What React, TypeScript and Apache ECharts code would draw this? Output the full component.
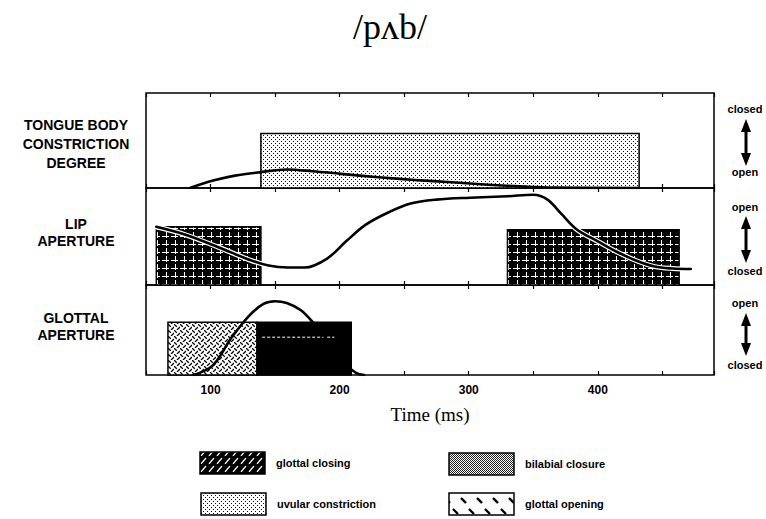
import { useEffect, useRef } from 'react';
import * as echarts from 'echarts';

const TITLE = '/pʌb/';
const X_AXIS_NAME = 'Time (ms)';
const X_MIN = 50;
const X_MAX = 490;
const X_STEP = 50;
const X_TICK_LABELS = [100, 200, 300, 400];

const PANEL_LABELS = [
  ['TONGUE BODY', 'CONSTRICTION', 'DEGREE'],
  ['LIP', 'APERTURE'],
  ['GLOTTAL', 'APERTURE'],
];
const SCALE_TOP = ['closed', 'open', 'open'];
const SCALE_BOTTOM = ['open', 'closed', 'closed'];

// boxes: [start ms, end ms, height (0..1)]
const tongueBoxes = [[139, 432, 0.574]];
const lipBoxes = [[58, 139, 0.6], [330, 463, 0.57]];
const glottalOpenBoxes = [[67, 136, 0.585]];
const glottalCloseBoxes = [[136, 209, 0.585]];

// curves: [ms, value]
const tongueCurve = [
  [84, 0], [102, 0.078], [119, 0.13], [139, 0.167], [159, 0.195], [179, 0.177],
  [201, 0.149], [230, 0.113], [258, 0.085], [287, 0.06], [315, 0.035], [344, 0.014],
  [365, 0.004], [432, 0],
];
const lipCurve = [
  [58, 0.6], [80, 0.52], [106, 0.39], [130, 0.26], [145, 0.2], [160, 0.18], [173, 0.18],
  [190, 0.27], [205, 0.45], [220, 0.62], [238, 0.75], [255, 0.84], [275, 0.88], [301, 0.9],
  [330, 0.915], [350, 0.93], [361, 0.88], [372, 0.73], [384, 0.57], [400, 0.45], [415, 0.34],
  [430, 0.25], [444, 0.19], [458, 0.17], [472, 0.165],
];
const glottalCurve = [
  [87, 0], [102, 0.11], [116, 0.41], [130, 0.66], [141, 0.79], [150, 0.82], [159, 0.8],
  [170, 0.72], [179, 0.59], [193, 0.34], [204, 0.13], [213, 0.02], [219, 0],
];
const glottalDash = [[140, 0.42], [196, 0.42]];

const LEGEND_ITEMS = ['glottal closing', 'bilabial closure', 'uvular constriction', 'glottal opening'];

function makePattern(w: number, h: number, bg: string, draw: (ctx: CanvasRenderingContext2D) => void) {
  const c = document.createElement('canvas');
  c.width = w;
  c.height = h;
  const ctx = c.getContext('2d')!;
  ctx.fillStyle = bg;
  ctx.fillRect(0, 0, w, h);
  draw(ctx);
  return { image: c.toDataURL(), repeat: 'repeat', imageWidth: w, imageHeight: h };
}

export default function App() {
  const ref = useRef<HTMLDivElement>(null);
  useEffect(() => {
    if (!ref.current) return;
    const chart = echarts.init(ref.current, null, { renderer: 'svg' });

    const stipple = makePattern(4, 4, '#fff', (ctx) => {
      ctx.fillStyle = '#111';
      ctx.fillRect(1, 1, 1, 1);
      ctx.fillRect(3, 3, 1, 1);
    });
    const lipGrid = makePattern(9, 8, '#000', (ctx) => {
      ctx.fillStyle = '#fff';
      ctx.fillRect(4, 0, 1, 6);
      ctx.fillRect(0, 4, 7, 1);
    });
    const openPat = makePattern(6, 6, '#fff', (ctx) => {
      ctx.strokeStyle = '#000';
      ctx.lineWidth = 1.3;
      ctx.beginPath();
      ctx.moveTo(0, 0); ctx.lineTo(2.8, 2.8);
      ctx.moveTo(3, 6); ctx.lineTo(6, 3);
      ctx.stroke();
    });
    const legClosing = makePattern(8, 8, '#000', (ctx) => {
      ctx.strokeStyle = '#fff';
      ctx.lineWidth = 1.2;
      ctx.beginPath();
      ctx.moveTo(1, 8); ctx.lineTo(6, 2);
      ctx.stroke();
    });
    const legBilabial = makePattern(2, 2, '#fff', (ctx) => {
      ctx.fillStyle = '#222';
      ctx.fillRect(0, 0, 1, 1);
      ctx.fillRect(1, 1, 1, 1);
    });
    const legOpening = makePattern(16, 22, '#fff', (ctx) => {
      ctx.strokeStyle = '#000';
      ctx.lineWidth = 2.4;
      ctx.beginPath();
      ctx.moveTo(5, 3); ctx.lineTo(10, 8);
      ctx.moveTo(13, 14); ctx.lineTo(18, 19);
      ctx.moveTo(-3, 14); ctx.lineTo(2, 19);
      ctx.stroke();
    });

    const grids = [
      { left: 146, right: 52, top: 93, height: 95 },
      { left: 146, right: 52, top: 188, height: 97 },
      { left: 146, right: 52, top: 285, height: 90 },
    ];

    const xAxes: any[] = [];
    const yAxes: any[] = [];
    grids.forEach((_, i) => {
      const base = {
        type: 'value',
        gridIndex: i,
        min: X_MIN,
        max: X_MAX,
        interval: X_STEP,
        axisLine: { show: false },
        axisTick: { show: true, inside: true, length: 4, lineStyle: { color: '#000', width: 1.2 } },
        splitLine: { show: false },
      };
      xAxes.push({
        ...base,
        position: 'bottom',
        name: i === 2 ? X_AXIS_NAME : '',
        nameLocation: 'middle',
        nameGap: 30,
        nameTextStyle: { fontFamily: 'Liberation Serif', fontSize: 19, color: '#000' },
        axisLabel: {
          show: i === 2,
          margin: 9,
          color: '#000',
          fontFamily: 'Liberation Sans',
          fontWeight: 'bold',
          fontSize: 12,
          formatter: (v: number) => (X_TICK_LABELS.includes(v) ? String(v) : ''),
        },
      });
      xAxes.push({ ...base, position: 'top', axisLabel: { show: false } });
      yAxes.push({ type: 'value', gridIndex: i, min: 0, max: 1, show: false });
    });

    const boxSeries = (data: number[][], gi: number, fill: any) => ({
      type: 'custom',
      xAxisIndex: gi * 2,
      yAxisIndex: gi,
      z: 2,
      encode: { x: [0, 1], y: 2 },
      data,
      renderItem: (_p: any, api: any) => {
        const s = api.value(0);
        const e = api.value(1);
        const h = api.value(2);
        const a = api.coord([s, h]);
        const b = api.coord([e, 0]);
        return {
          type: 'rect',
          shape: { x: a[0], y: a[1], width: b[0] - a[0], height: b[1] - a[1] },
          style: { fill, stroke: '#000', lineWidth: 1.5 },
        };
      },
    });

    const curve = (data: number[][], gi: number, color = '#000', width = 2.6, z = 5) => ({
      type: 'line',
      xAxisIndex: gi * 2,
      yAxisIndex: gi,
      z,
      data,
      smooth: 0.35,
      symbol: 'none',
      silent: true,
      lineStyle: { color, width, cap: 'round', join: 'round' },
    });

    const graphic: any[] = [];
    graphic.push({
      type: 'text', x: 390, y: 27,
      style: { text: TITLE, textAlign: 'center', textVerticalAlign: 'middle', font: '36px "Liberation Serif", "DejaVu Serif", serif', fill: '#000' },
    });
    const labelY = [[125, 144, 163], [224, 241], [318, 335]];
    PANEL_LABELS.forEach((lines, i) => {
      lines.forEach((t, j) => {
        graphic.push({
          type: 'text', x: 76, y: labelY[i][j],
          style: { text: t, textAlign: 'center', textVerticalAlign: 'middle', font: 'bold 14px "Liberation Sans", Arial, sans-serif', fill: '#000' },
        });
      });
    });
    const scaleY = [
      { t: 109, a: 119, b: 166, bt: 172 },
      { t: 207, a: 216, b: 263, bt: 271 },
      { t: 303, a: 313, b: 356, bt: 365 },
    ];
    const AX = 746;
    scaleY.forEach((s, i) => {
      graphic.push({ type: 'text', x: AX - 1, y: s.t, style: { text: SCALE_TOP[i], textAlign: 'center', textVerticalAlign: 'middle', font: 'bold 11px "Liberation Sans", Arial, sans-serif', fill: '#000' } });
      graphic.push({ type: 'text', x: AX - 1, y: s.bt, style: { text: SCALE_BOTTOM[i], textAlign: 'center', textVerticalAlign: 'middle', font: 'bold 11px "Liberation Sans", Arial, sans-serif', fill: '#000' } });
      graphic.push({ type: 'line', shape: { x1: AX, y1: s.a + 8, x2: AX, y2: s.b - 8 }, style: { stroke: '#000', lineWidth: 3 } });
      graphic.push({ type: 'polygon', shape: { points: [[AX, s.a], [AX - 5, s.a + 13], [AX + 5, s.a + 13]] }, style: { fill: '#000' } });
      graphic.push({ type: 'polygon', shape: { points: [[AX, s.b], [AX - 5, s.b - 13], [AX + 5, s.b - 13]] }, style: { fill: '#000' } });
    });

    const legendPos = [
      { x: 200, y: 452 }, { x: 449, y: 453 }, { x: 201, y: 493 }, { x: 449, y: 493 },
    ];
    const legendFills = [legClosing, legBilabial, stipple, legOpening];
    LEGEND_ITEMS.forEach((name, i) => {
      const p = legendPos[i];
      graphic.push({ type: 'rect', shape: { x: p.x, y: p.y, width: 65, height: 22 }, style: { fill: legendFills[i], stroke: '#000', lineWidth: 1.5 } });
      graphic.push({ type: 'text', x: p.x + 76, y: p.y + 11, style: { text: name, textVerticalAlign: 'middle', font: 'bold 11px "Liberation Sans", Arial, sans-serif', fill: '#000' } });
    });

    chart.setOption({
      animation: false,
      backgroundColor: '#fff',
      grid: grids.map((g) => ({ ...g, show: true, borderColor: '#000', borderWidth: 1.5, backgroundColor: 'transparent' })),
      xAxis: xAxes,
      yAxis: yAxes,
      series: [
        boxSeries(tongueBoxes, 0, stipple),
        boxSeries(lipBoxes, 1, lipGrid),
        boxSeries(glottalOpenBoxes, 2, openPat),
        boxSeries(glottalCloseBoxes, 2, '#000'),
        curve(tongueCurve, 0),
        curve(lipCurve, 1, '#fff', 5, 4),
        curve(lipCurve, 1),
        curve(glottalCurve, 2),
        {
          type: 'line', xAxisIndex: 4, yAxisIndex: 2, z: 4, data: glottalDash, symbol: 'none', silent: true,
          lineStyle: { color: '#fff', width: 1, type: [3, 2] },
        },
      ],
      graphic,
    });
    return () => chart.dispose();
  }, []);
  return <div ref={ref} style={{ position: 'fixed', left: 0, top: 0, width: 766, height: 519 }} />;
}
